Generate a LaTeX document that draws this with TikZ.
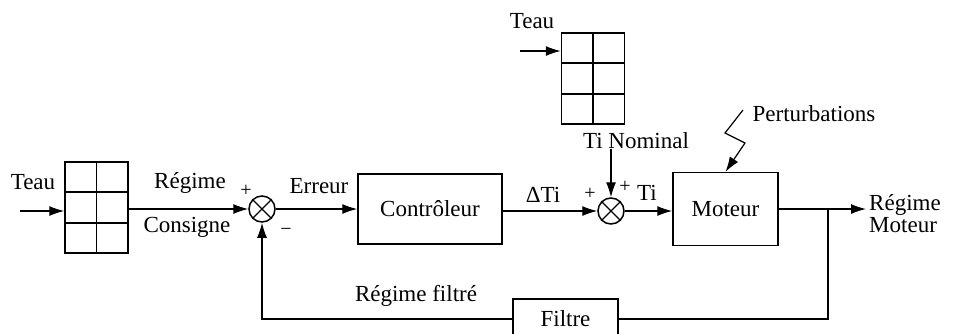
\documentclass[tikz,border=0pt]{standalone}
\usepackage{fontspec}
\setmainfont{Liberation Serif}
\usetikzlibrary{arrows.meta,calc}
\begin{document}
\begin{tikzpicture}[x=1pt,y=-1pt,
  lbl/.style={font=\fontsize{23}{25}\selectfont, inner sep=0pt},
  sgn/.style={font=\fontsize{20}{21}\selectfont, inner sep=0pt},
  blk/.style={draw, line width=1.5pt, inner sep=0pt, font=\fontsize{23}{25}\selectfont},
  sumc/.style={draw, circle, line width=1.5pt, minimum size=26pt, inner sep=0pt},
  tab/.style={draw, line width=1.5pt, minimum width=63pt, minimum height=91pt, inner sep=0pt},
  arr/.style={line width=1.2pt, -{Latex[length=15pt,width=10pt]}},
  ln/.style={line width=1.2pt},
]
\useasboundingbox (0,0) rectangle (961,333);
\clip (0,0) rectangle (961,333);

% tables
\node[tab] (t1) at (96.5,207.5) {};
\node[tab] (t2) at (593,78.5) {};
\foreach \t in {t1,t2}{
  \draw[line width=1.5pt] (\t.north) -- (\t.south);
  \draw[line width=1.5pt] ($(\t.north west)!1/3!(\t.south west)$) -- ($(\t.north east)!1/3!(\t.south east)$);
  \draw[line width=1.5pt] ($(\t.north west)!2/3!(\t.south west)$) -- ($(\t.north east)!2/3!(\t.south east)$);
}

% sums
\node[sumc] (s1) at (262,209) {};
\node[sumc] (s2) at (611,211) {};
\foreach \s in {s1,s2}{
  \draw[line width=1.3pt] (\s.north east) -- (\s.south west);
  \draw[line width=1.3pt] (\s.north west) -- (\s.south east);
}

% blocks
\node[blk, minimum width=144pt, minimum height=70pt] (ctrl) at (430,209) {Contrôleur};
\node[blk, minimum width=105pt, minimum height=73pt] (mot) at (725.5,209) {Moteur};
\node[blk, minimum width=105pt, minimum height=40pt] (filt) at (565.5,319) {Filtre};

% labels
\node[lbl] (teau1) at (33,182) {Teau};
\node[lbl] (teau2) at (532,21) {Teau};
\node[lbl] (reg) at (190,183) {Régime};
\node[lbl] (cons) at (187,227) {Consigne};
\node[lbl] (err) at (319,186) {Erreur};
\node[lbl] (dti) at (543,195) {ΔTi};
\node[lbl] (ti) at (647,193) {Ti};
\node[lbl] (tin) at (636,141) {Ti Nominal};
\node[lbl] (pert) at (814,114) {Perturbations};
\node[lbl, align=left, anchor=west] (regm) at (869,214) {Régime\\[-3pt]Moteur};
\node[lbl] (regf) at (416,296) {Régime filtré};
\node[sgn] (p1) at (246,191) {+};
\node[sgn] (m1) at (286,232) {−};
\node[sgn] (p2) at (590,194) {+};
\node[sgn] (p3) at (625,187) {+};

% coordinates
\coordinate (in1) at (20,211);
\coordinate (in2) at (520,51);
\coordinate (br) at (828,209);
\coordinate (out) at (866,209);
\coordinate (lz0) at (743,110);
\coordinate (lz1) at (725,133);
\coordinate (lz2) at (745,143);

% connectors
\draw[arr] (in1) -- (in1 -| t1.west);
\draw[arr] (in2) -- (in2 -| t2.west);
\draw[arr] (t1.east |- s1.west) -- (s1.west);
\draw[arr] (s1.east) -- (ctrl.west |- s1.east);
\draw[arr] (ctrl.east |- s2.west) -- (s2.west);
\draw[arr] (s2.north |- tin.south) -- (s2.north);
\draw[arr] (s2.east) -- (mot.west |- s2.east);
\draw[arr] (mot.east) -- (out);
\draw[ln] (br) |- (filt.east);
\draw[arr] (filt.west) -| (s1.south);
\draw[arr] (lz0) -- (lz1) -- (lz2) -- (mot.north);
\end{tikzpicture}
\end{document}
